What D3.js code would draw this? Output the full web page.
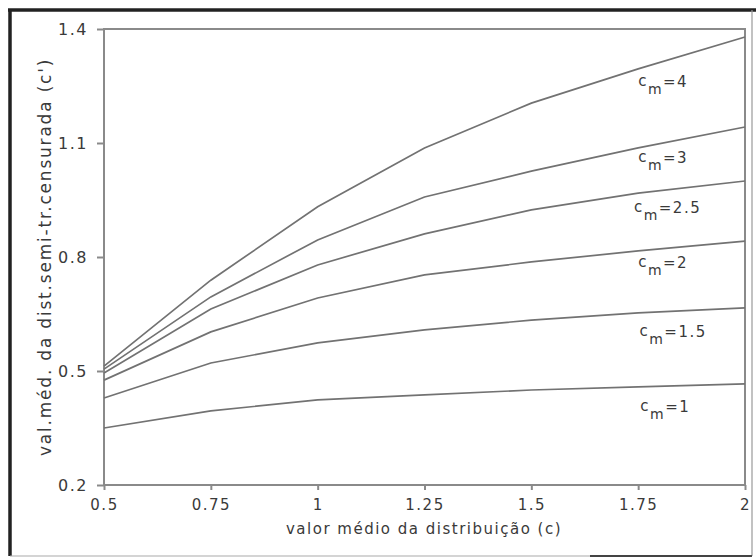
<!DOCTYPE html>
<html>
<head>
<meta charset="utf-8">
<script src="https://cdn.jsdelivr.net/npm/d3@7"></script>
<style>
  body { margin: 0; background: #fff; }
  svg { display: block; }
  text { font-family: "DejaVu Sans", sans-serif; fill: #3a3a3a; }
</style>
</head>
<body>
<script>
// valores
const xValues = [0.5, 0.75, 1, 1.25, 1.5, 1.75, 2]
const cm4  = [0.513, 0.739, 0.932, 1.087, 1.205, 1.295, 1.379]
const cm3  = [0.505, 0.695, 0.845, 0.958, 1.026, 1.087, 1.142]
const cm25 = [0.495, 0.663, 0.779, 0.861, 0.924, 0.968, 1.000]
const cm2  = [0.476, 0.603, 0.692, 0.753, 0.787, 0.816, 0.842]
const cm15 = [0.429, 0.521, 0.574, 0.608, 0.634, 0.653, 0.666]
const cm1  = [0.350, 0.395, 0.424, 0.437, 0.450, 0.458, 0.466]

const seriesNames = ["4", "3", "2.5", "2", "1.5", "1"]
const seriesValues = [cm4, cm3, cm25, cm2, cm15, cm1]
// y (em unidades do eixo) da linha de base de cada rótulo c_m
const labelY = [1.247, 1.047, 0.916, 0.771, 0.589, 0.392]
const labelX = [1.75, 1.75, 1.74, 1.75, 1.753, 1.755]

const xTicks = [0.5, 0.75, 1, 1.25, 1.5, 1.75, 2]
const yTicks = [0.2, 0.5, 0.8, 1.1, 1.4]

const w = 756
const h = 559

const svg = d3.select("body")
    .append("svg")
    .attr("width", w)
    .attr("height", h)

// moldura exterior
svg.append("line").attr("x1", 10).attr("y1", 10).attr("x2", 10).attr("y2", 556)
    .attr("stroke", "#222").attr("stroke-width", 3.5)
svg.append("line").attr("x1", 8).attr("y1", 10).attr("x2", 756).attr("y2", 10)
    .attr("stroke", "#222").attr("stroke-width", 3.5)
svg.append("line").attr("x1", 752).attr("y1", 10).attr("x2", 752).attr("y2", 556)
    .attr("stroke", "#999").attr("stroke-width", 1.2)
svg.append("line").attr("x1", 10).attr("y1", 556).attr("x2", 590).attr("y2", 556)
    .attr("stroke", "#aaa").attr("stroke-width", 1.2)
svg.append("line").attr("x1", 590).attr("y1", 556).attr("x2", 752).attr("y2", 556)
    .attr("stroke", "#444").attr("stroke-width", 2)

const x = d3.scaleLinear().domain([0.5, 2]).range([104, 745])
const y = d3.scaleLinear().domain([0.2, 1.4]).range([485, 29])

// caixa do gráfico
svg.append("rect")
    .attr("x", x(0.5)).attr("y", y(1.4))
    .attr("width", x(2) - x(0.5)).attr("height", y(0.2) - y(1.4))
    .attr("fill", "none").attr("stroke", "#8a8a8a").attr("stroke-width", 2)

const xAxis = svg.append("g")
    .attr("transform", "translate(0," + y(0.2) + ")")
    .call(d3.axisBottom(x).tickValues(xTicks).tickSize(5).tickPadding(9)
        .tickFormat(d => d3.format("")(d)))
xAxis.select(".domain").remove()
xAxis.selectAll("line").attr("stroke", "#8a8a8a").attr("stroke-width", 2)
xAxis.selectAll("text")
    .attr("font-size", 15).attr("fill", "#3a3a3a")
    .style("letter-spacing", "1.5px")
    .style("font-family", "DejaVu Sans")

const yAxis = svg.append("g")
    .attr("transform", "translate(" + x(0.5) + ",0)")
    .call(d3.axisLeft(y).tickValues(yTicks).tickSize(7).tickPadding(9)
        .tickFormat(d3.format(".1f")))
yAxis.select(".domain").remove()
yAxis.selectAll("line").attr("stroke", "#8a8a8a").attr("stroke-width", 2)
yAxis.selectAll("text")
    .attr("font-size", 16).attr("fill", "#2a2a2a")
    .style("letter-spacing", "1.5px")
    .style("font-family", "DejaVu Sans")

// curvas
const line = d3.line()
    .x((d, i) => x(xValues[i]))
    .y(d => y(d))

svg.selectAll("path.curve")
    .data(seriesValues)
    .enter()
    .append("path")
    .attr("class", "curve")
    .attr("d", line)
    .attr("fill", "none")
    .attr("stroke", "#727272")
    .attr("stroke-width", 1.7)

// rótulos c_m
const lab = svg.selectAll("text.cm")
    .data(seriesNames)
    .enter()
    .append("text")
    .attr("class", "cm")
    .attr("x", (d, i) => x(labelX[i]))
    .attr("y", (d, i) => y(labelY[i]))
    .attr("font-size", 15)
    .style("letter-spacing", "1.5px")

lab.append("tspan").text("c").attr("dy", -1)
lab.append("tspan").text("m").attr("font-size", 14).attr("dy", 8)
lab.append("tspan").text(d => "=" + d).attr("dy", -7)

// títulos dos eixos
svg.append("text")
    .attr("x", 424)
    .attr("y", 534)
    .attr("text-anchor", "middle")
    .attr("font-size", 15)
    .style("letter-spacing", "1.5px")
    .text("valor médio da distribuição (c)")

svg.append("text")
    .attr("transform", "translate(51," + 257 + ") rotate(-90)")
    .attr("text-anchor", "middle")
    .attr("font-size", 17)
    .style("letter-spacing", "1.8px")
    .text("val.méd. da dist.semi-tr.censurada (c')")
</script>
</body>
</html>
